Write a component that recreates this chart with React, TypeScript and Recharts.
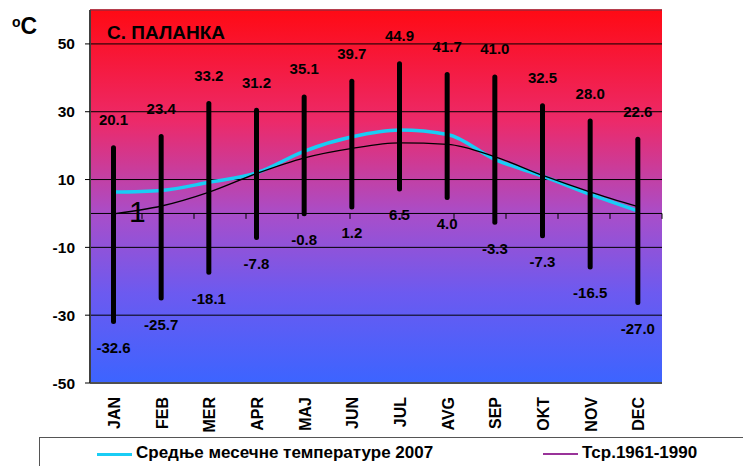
import {
  ComposedChart,
  Line,
  Bar,
  XAxis,
  YAxis,
  CartesianGrid,
  ReferenceLine,
} from "recharts";

const months = ["JAN", "FEB", "MER", "APR", "MAJ", "JUN", "JUL", "AVG", "SEP", "OKT", "NOV", "DEC"];
const mean2007 = [6.3, 6.8, 9.2, 12.0, 18.4, 22.6, 24.6, 23.3, 15.9, 11.0, 5.6, 0.7];
const mean6190 = [-0.1, 2.2, 6.3, 11.8, 16.4, 19.2, 20.8, 20.4, 16.7, 11.2, 6.3, 2.0];
const absMax = [20.1, 23.4, 33.2, 31.2, 35.1, 39.7, 44.9, 41.7, 41.0, 32.5, 28.0, 22.6];
const absMin = [-32.6, -25.7, -18.1, -7.8, -0.8, 1.2, 6.5, 4.0, -3.3, -7.3, -16.5, -27.0];
const yTicks = [-50, -30, -10, 10, 30, 50];

const data = months.map((m, i) => ({
  month: m,
  mean2007: mean2007[i],
  mean6190: mean6190[i],
  range: [absMin[i], absMax[i]],
  max: absMax[i],
  min: absMin[i],
}));

const font = "'Liberation Sans', Arial, sans-serif";

const ExtremeBar = (props: any) => {
  const { x, y, width, height, payload } = props;
  const top = Math.min(y, y + height);
  const h = Math.abs(height);
  const cx = x + width / 2;
  return (
    <g>
      <rect x={x} y={top} width={width} height={h} rx={width / 2} fill="#000" />
      <text x={cx} y={top - 20} textAnchor="middle" fontFamily={font} fontWeight="bold" fontSize={15} fill="#000">
        {payload.max.toFixed(1)}
      </text>
      <text x={cx} y={top + h + 29} textAnchor="middle" fontFamily={font} fontWeight="bold" fontSize={15} fill="#000">
        {payload.min.toFixed(1)}
      </text>
    </g>
  );
};

const MonthTick = (props: any) => {
  const { x, payload } = props;
  return (
    <text
      transform={`translate(${x},397) rotate(-90)`}
      y={6}
      textAnchor="end"
      fontFamily={font}
      fontWeight="bold"
      fontSize={16}
      fill="#000"
    >
      {payload.value}
    </text>
  );
};

export default function App() {
  return (
    <div style={{ position: "absolute", left: 0, top: 0, width: 743, height: 466, background: "#fff", overflow: "hidden" }}>
      <ComposedChart width={743} height={466} data={data} margin={{ top: 10, right: 81, bottom: 0, left: 0 }}>
        <defs>
          <linearGradient id="bg" x1="0" y1="0" x2="0" y2="1">
            <stop offset="0%" stopColor="#FF0A14" />
            <stop offset="30%" stopColor="#EC2A6A" />
            <stop offset="55%" stopColor="#A84ECA" />
            <stop offset="76%" stopColor="#6C5AF0" />
            <stop offset="100%" stopColor="#3C64FF" />
          </linearGradient>
        </defs>
        <CartesianGrid vertical={false} stroke="#000" strokeWidth={1} fill="url(#bg)" fillOpacity={1} />
        <XAxis
          dataKey="month"
          height={83}
          tick={<MonthTick />}
          tickLine={false}
          interval={0}
          axisLine={{ stroke: "#505050", strokeWidth: 2 }}
        />
        <XAxis xAxisId="b" type="number" domain={[0, 12]} hide />
        <YAxis
          domain={[-50, 60]}
          ticks={yTicks}
          width={90}
          tickSize={5}
          tickMargin={10}
          tickLine={{ stroke: "#000" }}
          axisLine={{ stroke: "#404040", strokeWidth: 2 }}
          tick={{ fontFamily: font, fontWeight: "bold", fontSize: 15.5, fill: "#000" }}
        />
        <ReferenceLine y={0} stroke="#000" strokeWidth={1} />
        <ReferenceLine y={60} stroke="#C8283C" strokeWidth={1.5} />
        <ReferenceLine x={12} xAxisId="b" stroke="#A0A0A0" strokeWidth={2} />
        {months.map((_, i) => (
          <ReferenceLine
            key={`t-${i}`}
            xAxisId="b"
            segment={[{ x: i + 1, y: 0 }, { x: i + 1, y: -1.6 }]}
            stroke="#000"
            strokeWidth={1}
          />
        ))}
        <Line
          dataKey="mean2007"
          type="monotone"
          stroke="#19CDF5"
          strokeWidth={3.5}
          dot={false}
          isAnimationActive={false}
        />
        <Line
          dataKey="mean6190"
          type="monotone"
          stroke="#000"
          strokeWidth={1.3}
          dot={false}
          isAnimationActive={false}
        />
        <Bar dataKey="range" barSize={5} shape={<ExtremeBar />} isAnimationActive={false} zIndex={700} />
        <text x={107} y={39} fontFamily={font} fontWeight="bold" fontSize={19} fill="#000">
          С. ПАЛАНКА
        </text>
        <text x={129} y={222} fontFamily={font} fontSize={30} fill="#000">
          1
        </text>
      </ComposedChart>
      <div style={{ position: "absolute", left: 12, top: 15, fontFamily: font, fontWeight: "bold", color: "#000", lineHeight: 1 }}>
        <span style={{ fontSize: 14, position: "relative", top: -7 }}>o</span>
        <span style={{ fontSize: 23 }}>C</span>
      </div>
      <div
        style={{
          position: "absolute",
          left: 39,
          top: 437,
          width: 720,
          height: 40,
          borderTop: "1.5px solid #555",
          borderLeft: "1.5px solid #555",
          fontFamily: font,
          fontWeight: "bold",
          fontSize: 17,
          color: "#000",
        }}
      >
        <div style={{ position: "absolute", left: 57, top: 15, width: 35, height: 3, background: "#19CDF5" }} />
        <div style={{ position: "absolute", left: 96, top: 5, whiteSpace: "nowrap" }}>Средње месечне температуре 2007</div>
        <div style={{ position: "absolute", left: 503, top: 15, width: 35, height: 2, background: "#993399" }} />
        <div style={{ position: "absolute", left: 542, top: 5, whiteSpace: "nowrap" }}>Тср.1961-1990</div>
      </div>
    </div>
  );
}
